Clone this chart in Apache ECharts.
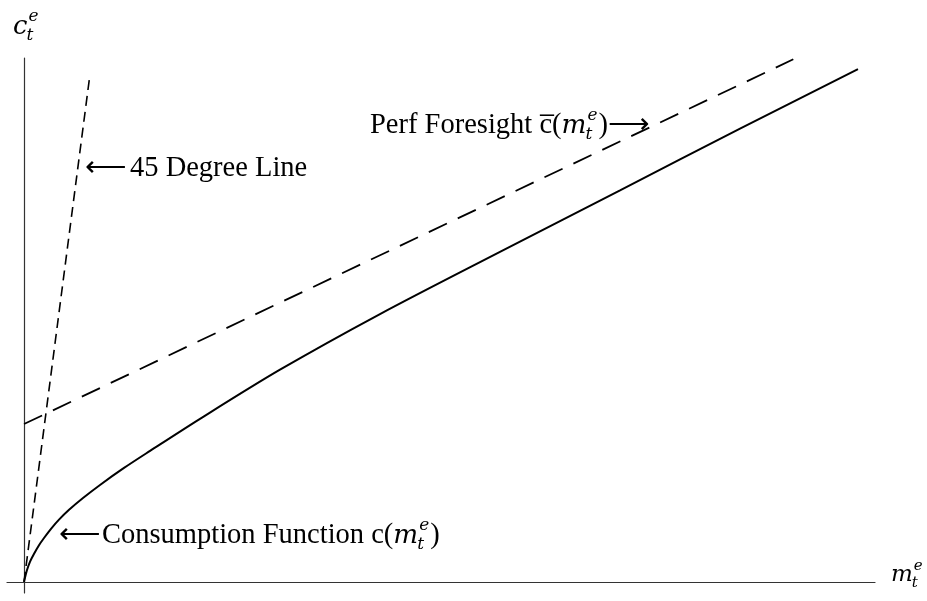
<!DOCTYPE html>
<html>
<head>
<meta charset="utf-8">
<script src="https://cdn.jsdelivr.net/npm/echarts@6/dist/echarts.min.js"></script>
<style>
  html, body { margin: 0; background: #fff; }
  #chart { width: 927px; height: 601px; }
</style>
</head>
<body>
<div id="chart"></div>
<script>
// values (x = m, y = c, arbitrary units)
const consM = [0, 0.35, 0.71, 1.18, 1.76, 2.35, 3.17, 4.11, 5.29, 6.93, 8.93, 11.75, 14.81, 20.68, 30.08, 41.83, 55.93, 70.04, 84.14, 98.0];
const consC = [0, 0.18, 0.31, 0.43, 0.56, 0.67, 0.81, 0.95, 1.10, 1.28, 1.48, 1.74, 2.00, 2.49, 3.24, 4.09, 5.04, 5.98, 6.92, 7.83];
const pfM = [0, 90.4];
const pfC = [2.41, 7.98];
const degM = [0, 7.74];
const degC = [0, 7.74];

const zip = (a, b) => a.map((v, i) => [v, b[i]]);

const serif = '"Liberation Serif", "Times New Roman", serif';
const mathFont = '"DejaVu Serif", serif';
const measure = document.createElement('canvas').getContext('2d');
function textWidth(str, size, italic) {
  measure.font = (italic ? 'italic ' + size + 'px ' + mathFont : size + 'px ' + serif);
  return measure.measureText(str).width;
}

// text element placed by its baseline
function txt(t, x, base, size, italic) {
  return {
    type: 'text',
    x: x,
    y: base - size * 0.31,
    silent: true,
    style: {
      text: t,
      fontFamily: italic ? mathFont : serif,
      fontSize: size,
      fontStyle: italic ? 'italic' : 'normal',
      fill: '#000',
      align: 'left',
      verticalAlign: 'middle'
    }
  };
}

// a run of roman / italic pieces, plus stacked sub- and superscript
function mathRun(x, base, size, parts) {
  const els = [];
  let cx = x;
  parts.forEach(p => {
    if (p.sub) {
      const s = Math.round(size * 0.6);
      els.push(txt(p.sub, cx - 1, base + size * 0.22, s, true));
      els.push(txt(p.sup, cx + 1, base - size * 0.46, s, true));
      cx += Math.max(textWidth(p.sub, s, true) - 1, textWidth(p.sup, s, true) + 1) + 1;
    } else {
      const sz = p.i ? size * 0.92 : size;
      els.push(txt(p.t, cx, base, sz, p.i));
      cx += textWidth(p.t, sz, p.i);
    }
  });
  return els;
}

const fs = 28.5;
const graphics = [].concat(
  // axis names
  mathRun(13, 35, 28, [{ t: 'c', i: true }, { sub: 't', sup: 'e' }]),
  mathRun(891, 582, 25, [{ t: 'm', i: true }, { sub: 't', sup: 'e' }]),
  // 45 degree line label
  [txt('\u27F5', 85, 177, fs)],
  [txt('45 Degree Line', 130, 177, fs)],
  // consumption function label
  [txt('\u27F5', 59, 544, fs)],
  mathRun(102, 544, fs, [
    { t: 'Consumption Function c(' },
    { t: 'm', i: true }, { sub: 't', sup: 'e' },
    { t: ')' }
  ]),
  // perfect foresight label
  mathRun(370, 134, fs, [
    { t: 'Perf Foresight c\u0305(' },
    { t: 'm', i: true }, { sub: 't', sup: 'e' },
    { t: ')\u27F6' }
  ])
);

const chart = echarts.init(document.getElementById('chart'));
chart.setOption({
  animation: false,
  backgroundColor: '#fff',
  grid: { left: 7, right: 52, top: 58, bottom: 8 },
  xAxis: {
    type: 'value',
    min: -2,
    max: 100,
    axisLine: { onZero: true, lineStyle: { color: '#333', width: 1.2 } },
    axisTick: { show: false },
    axisLabel: { show: false },
    splitLine: { show: false }
  },
  yAxis: {
    type: 'value',
    min: -0.17,
    max: 8,
    axisLine: { show: true, onZero: true, lineStyle: { color: '#333', width: 1.2 } },
    axisTick: { show: false },
    axisLabel: { show: false },
    splitLine: { show: false }
  },
  series: [
    {
      name: 'Consumption Function',
      type: 'line',
      data: zip(consM, consC),
      symbol: 'none',
      smooth: 0.3,
      lineStyle: { color: '#000', width: 2 }
    },
    {
      name: 'Perf Foresight',
      type: 'line',
      data: zip(pfM, pfC),
      symbol: 'none',
      lineStyle: { color: '#000', width: 1.8, type: [20, 12] }
    },
    {
      name: '45 Degree Line',
      type: 'line',
      data: zip(degM, degC),
      symbol: 'none',
      lineStyle: { color: '#000', width: 1.6, type: [10, 6] }
    }
  ],
  graphic: graphics
});
</script>
</body>
</html>
